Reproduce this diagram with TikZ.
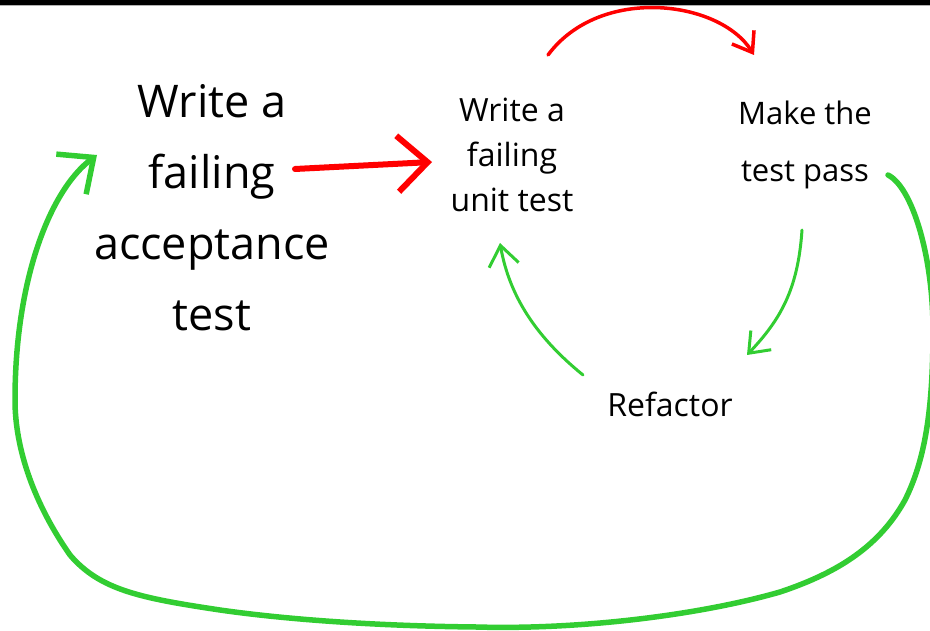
\documentclass[tikz,border=0pt]{standalone}
\usepackage{fontspec}
\setmainfont{Open Sans}
\usetikzlibrary{arrows.meta}
\definecolor{tddred}{RGB}{255,0,0}
\definecolor{tddgreen}{RGB}{50,205,50}

\begin{document}
\begin{tikzpicture}[x=1pt,y=-1pt]
\useasboundingbox (0,0) rectangle (930,631);
\fill[black] (0,0) rectangle (930,5);
\draw[gray!60,line width=1pt] (0,5.5) -- (930,5.5);

\begin{scope}[every node/.style={align=center,inner sep=0pt,text=black}]
    \node (A)[font=\fontsize{45}{71}\selectfont] at (212,208) {Write a\\failing\\acceptance\\test};
    \node (B)[font=\fontsize{32}{45}\selectfont] at (512,155) {Write a\\failing\\unit test};
    \node (C)[font=\fontsize{31}{57}\selectfont] at (805,145) {Make the\\test pass};
    \node (D)[font=\fontsize{32}{38}\selectfont] at (670,404) {Refactor};
\end{scope}

% arrow ends
\coordinate (AB1) at (295,169);
\coordinate (AB2) at (432,162);
\coordinate (BC1) at (548,55);
\coordinate (BC2) at (754,55);
\coordinate (CD1) at (802,230);
\coordinate (CD2) at (747,355);
\coordinate (DB1) at (583,375);
\coordinate (DB2) at (500,243);
\coordinate (CA1) at (888,175);
\coordinate (CA2) at (97,155);

\begin{scope}[line cap=round,line join=round,
              redline/.style={draw=tddred},
              greenline/.style={draw=tddgreen}]
    \draw[redline,line width=6pt,-{Straight Barb[length=30pt,width=56pt]}] (AB1) -- (AB2);
    \draw[redline,line width=3.5pt,-{Straight Barb[length=18pt,width=26pt]}]
        (BC1) .. controls (600,-15) and (720,0) .. (BC2);
    \draw[greenline,line width=3pt,-{Straight Barb[length=18pt,width=28pt]}]
        (CD1) .. controls (798,290) and (780,320) .. (CD2);
    \draw[greenline,line width=3pt,-{Straight Barb[length=20pt,width=30pt]}]
        (DB1) .. controls (540,340) and (510,300) .. (DB2);
    \draw[greenline,line width=5.5pt,-{Straight Barb[length=28pt,width=50pt]}]
        (CA1) .. controls (912,187) and (933,255) .. (933,330)
        .. controls (933,410) and (925,460) .. (905,500)
        .. controls (880,545) and (840,572) .. (780,592)
        .. controls (700,615) and (580,630) .. (476,627)
        .. controls (380,626) and (290,620) .. (220,610)
        .. controls (140,598) and (100,590) .. (70,555)
        .. controls (35,505) and (15,450) .. (15,400)
        .. controls (15,280) and (50,190) .. (CA2);
\end{scope}
\end{tikzpicture}
\end{document}
